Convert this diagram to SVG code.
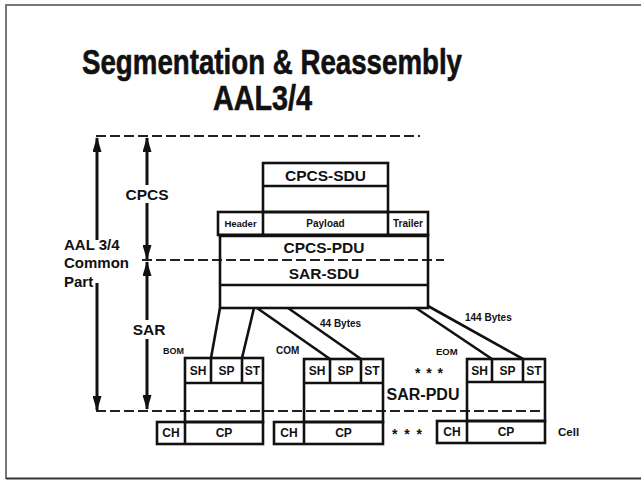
<svg xmlns="http://www.w3.org/2000/svg" width="641" height="480" viewBox="0 0 641 480">
<defs>
<style>
.t{font-family:"Liberation Sans",Arial,sans-serif;font-weight:bold;fill:#111}
.box{fill:none;stroke:#111;stroke-width:2.6}
.ln{stroke:#111;stroke-width:2.6;fill:none}
.dash{stroke:#222;stroke-width:2;stroke-dasharray:10 4;fill:none}
.arr{stroke:#111;stroke-width:3;fill:none}
.frame{stroke:#777;stroke-width:2;fill:none}
</style>
<marker id="ah" markerUnits="userSpaceOnUse" viewBox="0 0 15 9" refX="14" refY="4.5" markerWidth="15" markerHeight="9" orient="auto">
<path d="M0,0 L15,4.5 L0,9 z" fill="#111"/>
</marker>
</defs>
<rect width="641" height="480" fill="#fff"/>
<g id="frame">
<path class="frame" d="M6,479 L6,5 L641,5"/>
<path d="M6,478.5 L641,478.5" stroke="#333" stroke-width="2"/>
</g>
<g id="title">
<text class="t" x="82" y="74" font-size="35" textLength="380" lengthAdjust="spacingAndGlyphs" stroke="#111" stroke-width="0.6">Segmentation &amp; Reassembly</text>
<text class="t" x="213" y="110" font-size="35" textLength="99" lengthAdjust="spacingAndGlyphs" stroke="#111" stroke-width="0.6">AAL3/4</text>
</g>
<g id="connectors">
<path class="dash" d="M96,136 L420,136"/>
<path class="dash" d="M142,260 L444,260"/>
<path class="dash" d="M96,411 L545,411"/>
<line class="arr" x1="97" y1="240" x2="97" y2="138" marker-end="url(#ah)"/>
<line class="arr" x1="97" y1="283" x2="97" y2="410" marker-end="url(#ah)"/>
<line class="arr" x1="147" y1="185" x2="147" y2="138" marker-end="url(#ah)"/>
<line class="arr" x1="147" y1="203" x2="147" y2="259" marker-end="url(#ah)"/>
<line class="arr" x1="147" y1="320" x2="147" y2="262" marker-end="url(#ah)"/>
<line class="arr" x1="147" y1="339" x2="147" y2="409" marker-end="url(#ah)"/>
<line class="ln" x1="220" y1="308" x2="211" y2="358"/>
<line class="ln" x1="254" y1="308" x2="242" y2="358"/>
<line class="ln" x1="257" y1="308" x2="330" y2="359"/>
<line class="ln" x1="288" y1="308" x2="361" y2="359"/>
<line class="ln" x1="416" y1="308" x2="492" y2="359"/>
<line class="ln" x1="428" y1="306" x2="523" y2="359"/>
</g>
<g id="labels">
<text class="t" x="147" y="200" font-size="15.5" text-anchor="middle">CPCS</text>
<text class="t" x="149" y="335" font-size="15.5" text-anchor="middle">SAR</text>
<text class="t" x="64" y="250" font-size="15">AAL 3/4</text>
<text class="t" x="64" y="268" font-size="15">Common</text>
<text class="t" x="64" y="287" font-size="15">Part</text>
<text class="t" x="320" y="327" font-size="10">44 Bytes</text>
<text class="t" x="465" y="321" font-size="10">144 Bytes</text>
<text class="t" x="163" y="354" font-size="9">BOM</text>
<text class="t" x="276" y="354" font-size="10">COM</text>
<text class="t" x="436" y="355" font-size="9.5">EOM</text>
<text class="t" x="415" y="378" font-size="14" textLength="28">* * *</text>
<text class="t" x="392" y="439" font-size="14" textLength="30">* * *</text>
<text class="t" x="423" y="400" font-size="16" text-anchor="middle">SAR-PDU</text>
<text class="t" x="558" y="436" font-size="11.5">Cell</text>
</g>
<g id="cpcs-sdu">
<rect class="box" x="263" y="163" width="125" height="49"/>
<line class="ln" x1="263" y1="186" x2="388" y2="186"/>
<text class="t" x="325.5" y="181" font-size="15.5" text-anchor="middle">CPCS-SDU</text>
</g>
<g id="cpcs-header-row">
<rect class="box" x="218" y="212" width="210" height="23"/>
<line class="ln" x1="263" y1="212" x2="263" y2="235"/>
<line class="ln" x1="388" y1="212" x2="388" y2="235"/>
<text class="t" x="240.5" y="227" font-size="9.5" text-anchor="middle">Header</text>
<text class="t" x="325.5" y="227" font-size="10" text-anchor="middle">Payload</text>
<text class="t" x="408" y="227" font-size="10" text-anchor="middle">Trailer</text>
</g>
<g id="cpcs-pdu">
<rect class="box" x="220" y="235" width="208" height="73"/>
<line class="ln" x1="220" y1="236" x2="428" y2="236" stroke-width="4"/>
<line class="ln" x1="220" y1="285" x2="428" y2="285"/>
<text class="t" x="324" y="253" font-size="15.5" text-anchor="middle">CPCS-PDU</text>
<text class="t" x="324" y="279" font-size="15.5" text-anchor="middle">SAR-SDU</text>
</g>
<g id="bom">
<rect class="box" x="185" y="358" width="78" height="64"/>
<line class="ln" x1="185" y1="383" x2="263" y2="383"/>
<line class="ln" x1="211" y1="358" x2="211" y2="383"/>
<line class="ln" x1="242" y1="358" x2="242" y2="383"/>
<text class="t" x="198" y="375" font-size="12" text-anchor="middle">SH</text>
<text class="t" x="226.5" y="375" font-size="12" text-anchor="middle">SP</text>
<text class="t" x="252.5" y="375" font-size="12" text-anchor="middle">ST</text>
<rect class="box" x="157" y="422" width="106" height="22"/>
<line class="ln" x1="185" y1="422" x2="185" y2="444"/>
<text class="t" x="171" y="437" font-size="12" text-anchor="middle">CH</text>
<text class="t" x="224" y="437" font-size="12" text-anchor="middle">CP</text>
</g>
<g id="com">
<rect class="box" x="304" y="359" width="79" height="63"/>
<line class="ln" x1="304" y1="383" x2="383" y2="383"/>
<line class="ln" x1="330" y1="359" x2="330" y2="383"/>
<line class="ln" x1="361" y1="359" x2="361" y2="383"/>
<text class="t" x="317" y="375" font-size="12" text-anchor="middle">SH</text>
<text class="t" x="345.5" y="375" font-size="12" text-anchor="middle">SP</text>
<text class="t" x="372" y="375" font-size="12" text-anchor="middle">ST</text>
<rect class="box" x="274" y="422" width="109" height="22"/>
<line class="ln" x1="304" y1="422" x2="304" y2="444"/>
<text class="t" x="289" y="437" font-size="12" text-anchor="middle">CH</text>
<text class="t" x="343.5" y="437" font-size="12" text-anchor="middle">CP</text>
</g>
<g id="eom">
<rect class="box" x="467" y="359" width="78" height="62"/>
<line class="ln" x1="467" y1="382" x2="545" y2="382"/>
<line class="ln" x1="492" y1="359" x2="492" y2="382"/>
<line class="ln" x1="523" y1="359" x2="523" y2="382"/>
<text class="t" x="479.5" y="375" font-size="12" text-anchor="middle">SH</text>
<text class="t" x="507.5" y="375" font-size="12" text-anchor="middle">SP</text>
<text class="t" x="534" y="375" font-size="12" text-anchor="middle">ST</text>
<rect class="box" x="437" y="421" width="108" height="22"/>
<line class="ln" x1="467" y1="421" x2="467" y2="443"/>
<text class="t" x="452" y="436" font-size="12" text-anchor="middle">CH</text>
<text class="t" x="506" y="436" font-size="12" text-anchor="middle">CP</text>
</g>
</svg>
